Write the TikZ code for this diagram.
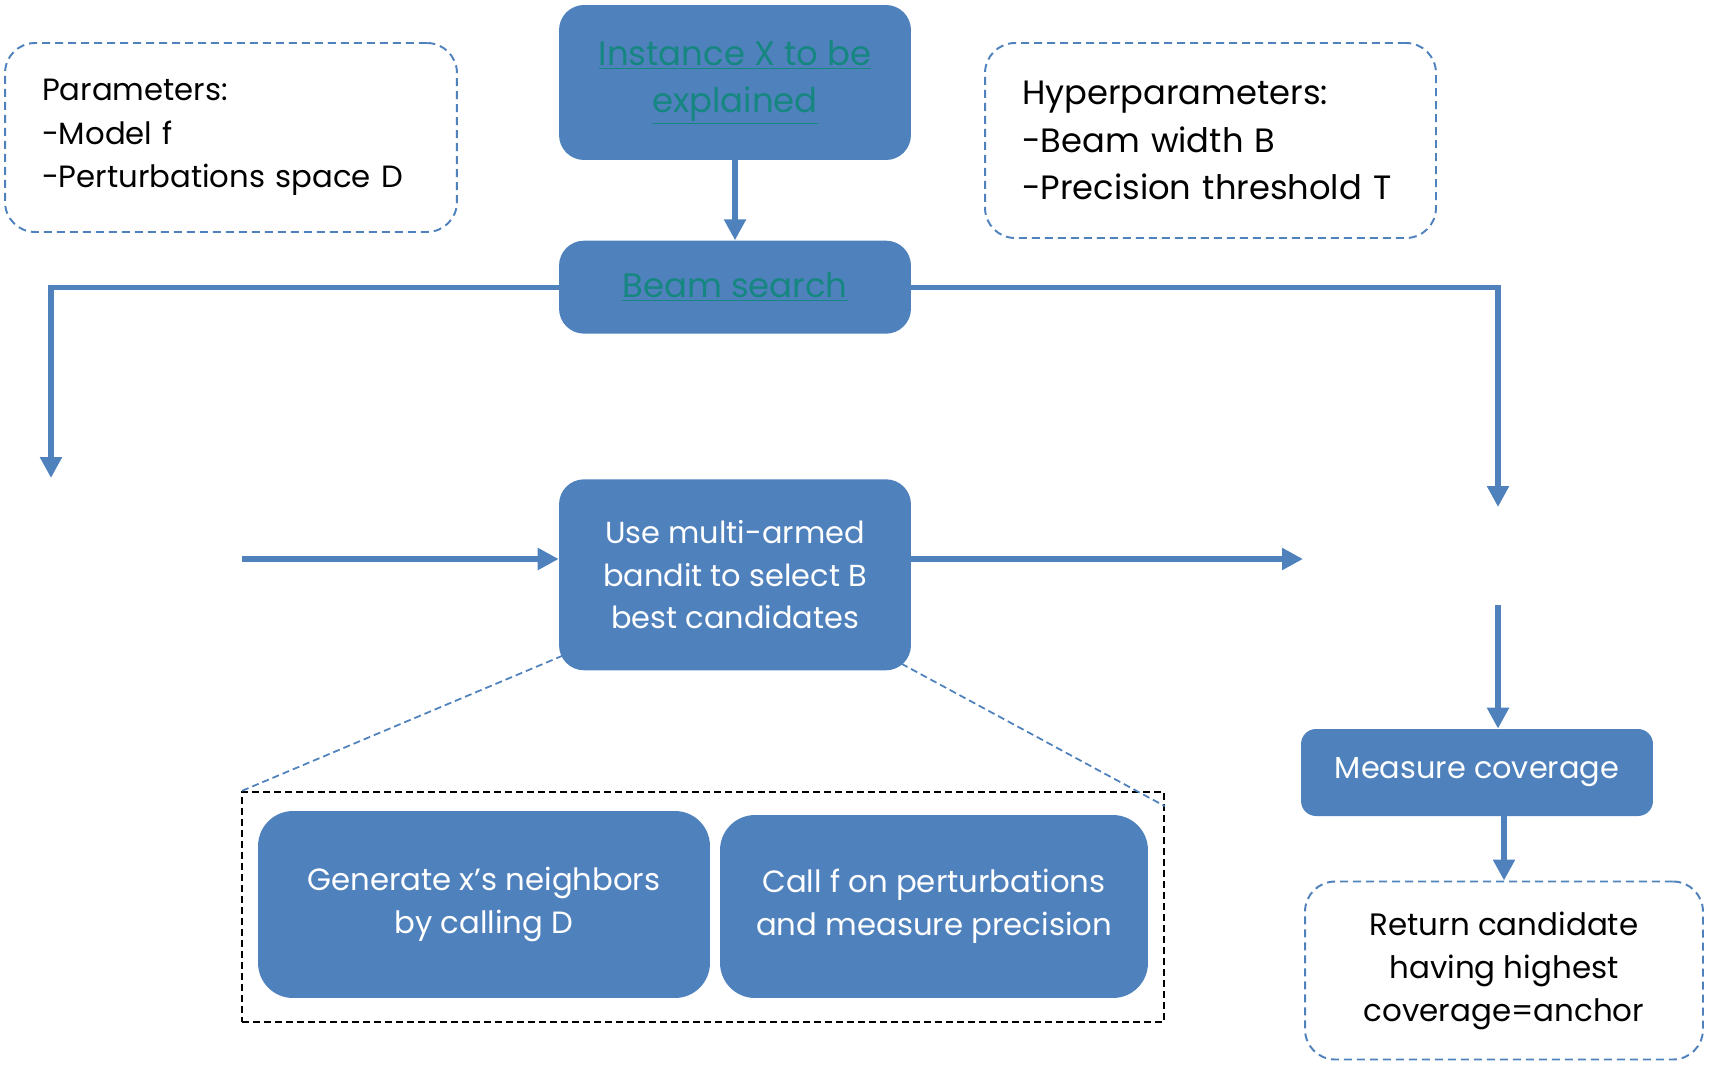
\documentclass[tikz,border=0pt]{standalone}
\usepackage{fontspec}
\setmainfont{Poppins}
\usetikzlibrary{arrows.meta,positioning,calc}
\definecolor{boxblue}{RGB}{79,129,189}
\definecolor{linkteal}{RGB}{22,134,128}
\tikzset{
  blockbox/.style={rectangle, rounded corners=0.5cm, fill=boxblue, text=white, align=center,
    minimum width=7.04cm, font=\fontsize{17.3}{24.2}\selectfont},
  notebox/.style={rectangle, rounded corners=0.6cm, draw=boxblue, line width=1.1pt,
    dash pattern=on 0.16cm off 0.1cm, align=left, font=\fontsize{17.5}{24.8}\selectfont},
  flow/.style={draw=boxblue, line width=3pt, -{Triangle[width=0.42cm,length=0.42cm]}},
  zoomline/.style={draw=boxblue, line width=1pt, dash pattern=on 0.14cm off 0.08cm},
}
\newcommand{\linktext}[1]{\textcolor{linkteal}{\underline{#1}}}

\begin{document}
\begin{tikzpicture}[x=0.02cm, y=-0.02cm]
   \useasboundingbox (0,0) rectangle (1710,1068);
   % top row
   \node[blockbox, minimum height=3.1cm, font=\fontsize{19.3}{26.7}\selectfont] (inst) at (735,82.5)
      {\linktext{Instance X to be}\\\linktext{explained}};
   \node[blockbox, minimum height=1.86cm, font=\fontsize{19.3}{26.7}\selectfont] (beam) [below=1.6cm of inst]
      {\linktext{Beam search}};
   \node[notebox, text width=7.56cm, inner xsep=0.74cm, minimum height=3.78cm] (params) at (231,137.5)
      {Parameters:\\-Model f\\-Perturbations space D};
   \node[notebox, text width=7.54cm, inner xsep=0.74cm, minimum height=3.9cm,
      font=\fontsize{19.2}{27}\selectfont] (hyper) at (1210.5,140.5)
      {Hyperparameters:\\-Beam width B\\-Precision threshold T};
   % middle
   \node[blockbox, minimum height=3.82cm] (bandit) [below=2.9cm of beam] {Use multi-armed\\bandit to select B\\best candidates};
   \node[rectangle, draw, line width=1pt, dash pattern=on 0.14cm off 0.08cm,
      minimum width=18.44cm, minimum height=4.6cm] (detail) at (703,907) {};
   \node[blockbox, minimum width=9.04cm, minimum height=3.74cm, rounded corners=0.7cm,
      font=\fontsize{17.5}{24.2}\selectfont] (gen) at (484,904.5)
      {Generate x’s neighbors\\by calling D};
   \node[blockbox, minimum width=8.56cm, minimum height=3.66cm, rounded corners=0.7cm,
      font=\fontsize{17.5}{24.2}\selectfont] (callf) at (934,906.5)
      {Call f on perturbations\\and measure precision};
   % right column
   \node[blockbox, minimum height=1.74cm, rounded corners=0.3cm] (measure) at (1477,772.5) {Measure coverage};
   \node[notebox, align=center, minimum width=7.96cm, minimum height=3.56cm,
      font=\fontsize{17.6}{24.5}\selectfont] (ret) at (1504,970.5)
      {Return candidate\\having highest\\coverage=anchor};
   % free ends
   \coordinate (lefttip) at (51,478);
   \coordinate (righttip) at (1498,507);
   \coordinate (leftin) at (242,559);
   \coordinate (rightout) at (1303,559);
   \coordinate (rightstart) at (1498,605);
   % connectors
   \draw[flow] (inst) -- (beam);
   \draw[flow] (beam.west) -| (lefttip);
   \draw[flow] (beam.east) -| (righttip);
   \draw[flow] (leftin) -- (leftin -| bandit.west);
   \draw[flow] (rightout -| bandit.east) -- (rightout);
   \draw[flow] (rightstart) -- (rightstart |- measure.north);
   \draw[flow] (ret.north |- measure.south) -- (ret.north);
   \draw[zoomline] ($(bandit.south west)+(4,-15)$) -- (detail.north west);
   \draw[zoomline] ($(bandit.south east)+(-10,-7)$) -- ($(detail.north east)+(0,15)$);
\end{tikzpicture}
\end{document}
